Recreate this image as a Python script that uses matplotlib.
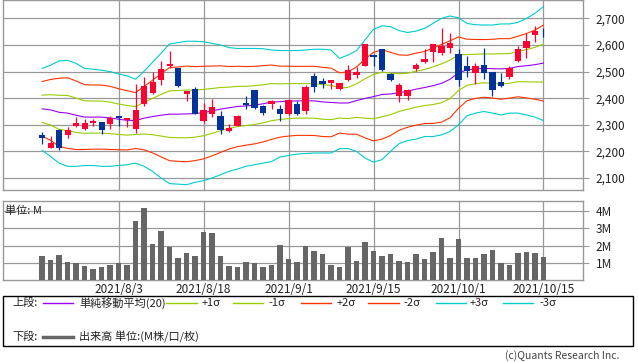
import numpy as np
import matplotlib
matplotlib.use("Agg")
import matplotlib.pyplot as plt
from matplotlib.lines import Line2D
from matplotlib.patches import Rectangle

plt.rcParams['font.family'] = ['Noto Sans CJK JP', 'DejaVu Sans']

# ---- data (trading day index 0..59, 2021/7/19 .. 2021/10/15)
tick_idx = [9, 19, 29, 39, 49, 59]
tick_lbl = ["2021/8/3", "2021/8/18", "2021/9/1", "2021/9/15", "2021/10/1", "2021/10/15"]

opens = [2262, 2211, 2281, 2260, 2296, 2285, 2307, 2311, 2304, 2334,
         2319, 2286, 2377, 2420, 2469, 2520, 2515, 2417, 2436, 2316,
         2342, 2334, 2275, 2296, 2382, 2429, 2369, 2380, 2360, 2342,
         2379, 2350, 2484, 2465, 2456, 2435, 2469, 2487, 2522, 2562,
         2584, 2491, 2410, 2410, 2510, 2537, 2575, 2571, 2590, 2565,
         2521, 2496, 2525, 2500, 2461, 2480, 2540, 2590, 2639, 2664]
highs = [2272, 2259, 2284, 2292, 2331, 2320, 2322, 2311, 2334, 2334,
         2326, 2454, 2479, 2500, 2540, 2577, 2515, 2427, 2441, 2382,
         2397, 2352, 2302, 2337, 2409, 2429, 2374, 2395, 2375, 2396,
         2390, 2449, 2495, 2476, 2469, 2456, 2525, 2516, 2602, 2565,
         2586, 2496, 2457, 2436, 2534, 2585, 2604, 2664, 2645, 2585,
         2559, 2534, 2587, 2500, 2496, 2520, 2596, 2644, 2672, 2664]
lows = [2227, 2211, 2207, 2252, 2292, 2279, 2297, 2267, 2285, 2294,
        2290, 2271, 2369, 2416, 2450, 2512, 2442, 2391, 2342, 2305,
        2331, 2267, 2272, 2294, 2360, 2360, 2335, 2361, 2316, 2337,
        2337, 2341, 2425, 2440, 2436, 2431, 2465, 2477, 2522, 2522,
        2501, 2464, 2387, 2395, 2501, 2531, 2535, 2562, 2571, 2444,
        2481, 2454, 2472, 2410, 2441, 2471, 2536, 2552, 2612, 2631]
closes = [2250, 2231, 2212, 2281, 2307, 2307, 2316, 2279, 2325, 2327,
          2326, 2356, 2446, 2461, 2510, 2529, 2446, 2427, 2342, 2356,
          2367, 2280, 2287, 2334, 2376, 2365, 2346, 2391, 2341, 2394,
          2341, 2442, 2441, 2455, 2469, 2456, 2506, 2500, 2602, 2556,
          2506, 2469, 2450, 2429, 2525, 2547, 2602, 2596, 2606, 2469,
          2504, 2521, 2496, 2429, 2444, 2512, 2585, 2615, 2652, 2662]

# volume in millions
volume = [1.38, 1.19, 1.47, 1.07, 0.98, 0.81, 0.62, 0.75, 0.90, 1.00,
          0.90, 3.42, 4.22, 2.10, 2.85, 1.95, 1.27, 1.59, 1.38, 2.79,
          2.73, 1.42, 0.81, 0.75, 1.07, 0.98, 0.75, 0.86, 2.05, 1.25,
          1.02, 1.99, 1.70, 1.53, 0.90, 0.78, 1.95, 1.11, 2.22, 1.70,
          1.42, 1.53, 1.11, 1.07, 1.53, 1.25, 1.65, 2.45, 1.31, 2.39,
          1.31, 1.31, 1.53, 1.76, 0.98, 0.90, 1.59, 1.65, 1.59, 1.36]

# bollinger: SMA(20) and +-3 sigma lines
sma20 = [2360, 2356, 2347, 2344, 2336, 2329, 2329, 2329, 2326, 2321,
         2317, 2316, 2325, 2331, 2336, 2340, 2340, 2341, 2342, 2346,
         2352, 2359, 2364, 2369, 2371, 2374, 2379, 2385, 2387, 2389,
         2390, 2390, 2390, 2386, 2384, 2382, 2382, 2391, 2399, 2406,
         2414, 2416, 2421, 2426, 2434, 2440, 2447, 2456, 2471, 2496,
         2506, 2510, 2512, 2511, 2510, 2512, 2519, 2522, 2526, 2532]
upper3 = [2512, 2524, 2540, 2542, 2531, 2512, 2509, 2505, 2500, 2491,
          2484, 2471, 2501, 2535, 2569, 2604, 2609, 2614, 2614, 2612,
          2606, 2600, 2590, 2587, 2587, 2587, 2586, 2581, 2579, 2579,
          2579, 2581, 2584, 2584, 2581, 2550, 2562, 2579, 2619, 2659,
          2672, 2669, 2654, 2647, 2652, 2662, 2681, 2700, 2709, 2702,
          2681, 2676, 2675, 2675, 2679, 2679, 2685, 2700, 2719, 2744]
lower3 = [2204, 2181, 2156, 2144, 2144, 2147, 2147, 2144, 2144, 2147,
          2150, 2156, 2144, 2125, 2100, 2079, 2077, 2075, 2084, 2090,
          2100, 2112, 2125, 2134, 2144, 2150, 2156, 2162, 2179, 2185,
          2190, 2192, 2194, 2194, 2194, 2210, 2211, 2200, 2175, 2160,
          2169, 2200, 2229, 2241, 2246, 2256, 2256, 2262, 2275, 2300,
          2334, 2344, 2350, 2344, 2337, 2344, 2344, 2337, 2329, 2316]

W, H = 638, 362
grid_c = '#999999'
txt_c = '#222222'
c_up, c_dn = '#ff0033', '#003399'
c_sma, c_1s, c_2s, c_3s = '#9900ff', '#99cc00', '#ff3300', '#00cccc'

x = np.arange(len(closes))
o, h, l, c = map(np.array, (opens, highs, lows, closes))
mid = np.array(sma20)
up3, lo3 = np.array(upper3), np.array(lower3)
sd = (up3 - lo3) / 6.0

fig = plt.figure(figsize=(W / 100, H / 100), dpi=100)
ax1 = fig.add_axes([3 / W, 1 - 190 / H, 580 / W, 190 / H])
ax2 = fig.add_axes([3 / W, 1 - 280 / H, 580 / W, 79 / H])

for ax in (ax1, ax2):
    ax.set_xlim(-4.6, 63.65)
    ax.set_xticks(tick_idx)
    ax.grid(True, color=grid_c, lw=0.9)
    ax.set_axisbelow(True)
    ax.yaxis.tick_right()
    ax.tick_params(axis='y', length=4, color=grid_c, labelsize=8.5, pad=5, labelcolor=txt_c)
    for s in ax.spines.values():
        s.set_color(grid_c)
        s.set_linewidth(1)

# ---- price panel
ax1.set_ylim(2055, 2769)
yt = list(range(2100, 2800, 100))
ax1.set_yticks(yt)
ax1.set_yticklabels([f"{v:,}" for v in yt])
ax1.tick_params(axis='x', length=0, labelbottom=False)

band_kw = dict(lw=0.8)
ax1.plot(x, mid, color=c_sma, **band_kw)
ax1.plot(x, mid + sd, color=c_1s, **band_kw)
ax1.plot(x, mid - sd, color=c_1s, **band_kw)
ax1.plot(x, mid + 2 * sd, color=c_2s, **band_kw)
ax1.plot(x, mid - 2 * sd, color=c_2s, **band_kw)
ax1.plot(x, up3, color=c_3s, **band_kw)
ax1.plot(x, lo3, color=c_3s, **band_kw)

cols = np.where(c >= o, c_up, c_dn)
ax1.vlines(x, l, h, colors=cols, lw=0.9, zorder=3)
body_lo = np.minimum(o, c)
body_h = np.maximum(np.abs(c - o), 1.5)
ax1.bar(x, body_h, bottom=body_lo, width=0.72, color=cols, zorder=4)

# ---- volume panel
ax2.set_ylim(0, 4.6)
ax2.set_yticks([1, 2, 3, 4])
ax2.set_yticklabels(['1M', '2M', '3M', '4M'])
ax2.set_xticklabels(tick_lbl)
ax2.tick_params(axis='x', length=0, labelsize=8.5, pad=2, labelcolor=txt_c)
ax2.bar(x, volume, width=0.62, color='#666666', zorder=3)
ax2.text(0.004, 0.88, '単位: M', transform=ax2.transAxes, fontsize=8,
         color=txt_c, va='center', ha='left')

# ---- legend box
def fx(px):
    return px / W

def fy(py):
    return 1 - py / H

fig.add_artist(Rectangle((fx(3), fy(346)), 630 / W, 50.5 / H, transform=fig.transFigure,
                         fill=False, ec='black', lw=1))
r1, r2 = 303, 337
fig.text(fx(12), fy(r1), '上段:', fontsize=8, va='center', color=txt_c)
items = [(43, 73, c_sma, 79, '単純移動平均(20)'),
         (166, 197, c_1s, 202, '+1σ'),
         (233, 263, c_1s, 268, '-1σ'),
         (301, 331, c_2s, 337, '+2σ'),
         (368, 399, c_2s, 403, '-2σ'),
         (436, 466, c_3s, 470, '+3σ'),
         (503, 533, c_3s, 539, '-3σ')]
for x0, x1, col, tx, lab in items:
    fig.add_artist(Line2D([fx(x0), fx(x1)], [fy(r1), fy(r1)], color=col, lw=1,
                          transform=fig.transFigure))
    fig.text(fx(tx), fy(r1), lab, fontsize=8, va='center', color=txt_c)

fig.text(fx(12), fy(r2), '下段:', fontsize=8, va='center', color=txt_c)
fig.add_artist(Line2D([fx(43), fx(73)], [fy(r2), fy(r2)], color='#666666', lw=2.5,
                      transform=fig.transFigure))
fig.text(fx(79), fy(r2), '出来高 単位:(M株/口/枚)', fontsize=8, va='center', color=txt_c)

fig.text(fx(619), fy(356), '(c)Quants Research Inc.', fontsize=7.5, ha='right',
         va='center', color='#444444')

fig.savefig('out.png', dpi=100)
